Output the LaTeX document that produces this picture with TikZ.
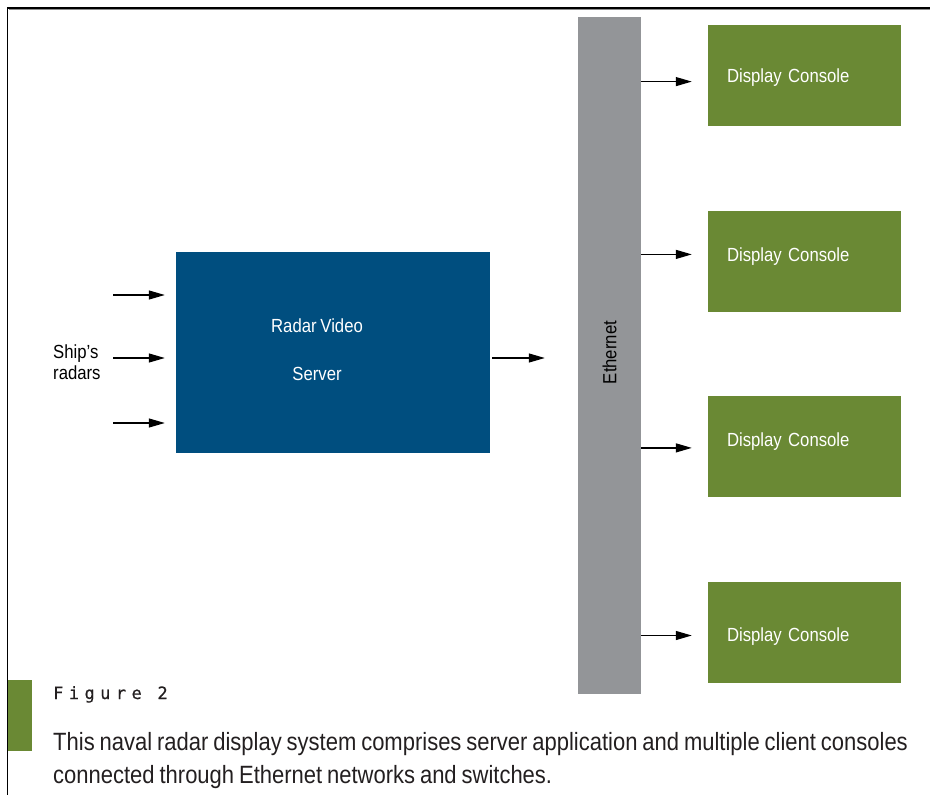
\documentclass[tikz,border=0pt]{standalone}
\usepackage{fontspec}
\setmainfont[FakeStretch=0.88, WordSpace=0.8]{Liberation Sans}
\newfontfamily\figfont[LetterSpace=32, FakeBold=0.6]{DejaVu Sans Mono}
\usetikzlibrary{positioning, arrows.meta}

\definecolor{srvblue}{HTML}{004E7F}
\definecolor{consgreen}{HTML}{6A8934}
\definecolor{ethgray}{HTML}{939598}
\definecolor{captext}{HTML}{231F20}

\begin{document}
\begin{tikzpicture}[
          x=1pt, y=-1pt,
          arr/.style={-{Triangle[length=16pt,width=9pt]}, line width=1.2pt},
          console/.style={fill=consgreen, text=white, minimum height=101pt,
            text width=155pt, inner xsep=19pt, inner ysep=0pt, align=left,
            text depth=0pt, font=\fontsize{19}{22}\selectfont},
          lift/.style={text height=#1},
          server/.style={fill=srvblue, minimum width=314pt, minimum height=201pt, inner sep=0pt},
          bus/.style={fill=ethgray, minimum width=63pt, minimum height=677pt, inner sep=0pt},
          whitetext/.style={text=white, align=center, font=\fontsize{19}{48}\selectfont},
          plaintext/.style={text=black, align=left, inner sep=0pt, font=\fontsize{19}{21}\selectfont}
        ]
        \useasboundingbox (0,0) rectangle (930,795);

        % frame
        \draw[black!45, line width=1pt] (9,9.8) -- (930,9.8);
        \draw[black, line width=1.6pt] (7.5,795) -- (7.5,8) -- (930,8);

        % server and bus
        \node[server] (srv) at (333,352.5) {};
        \node[whitetext] (srvlbl) at ([xshift=-16pt,yshift=2.5pt]srv.center) {Radar Video\\Server};
        \node[bus] (eth) at (609.5,355.5) {};
        \node[rotate=90, font=\fontsize{19}{22}\selectfont] (ethlbl) at ([yshift=3pt]eth.center) {Ethernet};

        % consoles
        \node[console, lift=13.6pt] (c1) at (804.5,75.8) {Display Console};
        \node[console, lift=0pt, below=84pt of c1] (c2) {Display Console};
        \node[console, lift=0.6pt, below=84pt of c2] (c3) {Display Console};
        \node[console, lift=19.6pt, below=84pt of c3] (c4) {Display Console};

        % radar inputs
        \node[plaintext, anchor=west] (ships) at (53,362.5) {Ship’s\\radars};
        \coordinate (in1) at (113,295);
        \coordinate (in2) at (113,358);
        \coordinate (in3) at (113,423);
        \draw[arr, shorten >=11pt] (in1) -- (in1 -| srv.west);
        \draw[arr, shorten >=11pt] (in2) -- (in2 -| srv.west);
        \draw[arr, shorten >=11pt] (in3) -- (in3 -| srv.west);

        % server to bus
        \coordinate (a0) at ([yshift=-5.5pt]srv.east);
        \draw[arr, shorten <=2pt, shorten >=33pt] (a0) -- (a0 -| eth.west);

        % bus to consoles
        \coordinate (a1) at ([yshift=-5.8pt]c1.west);
        \coordinate (a2) at ([yshift=6.8pt]c2.west);
        \coordinate (a3) at ([yshift=-1.3pt]c3.west);
        \coordinate (a4) at ([yshift=-3.5pt]c4.west);
        \draw[arr, shorten >=16pt] (eth.east |- a1) -- (a1);
        \draw[arr, shorten >=16pt] (eth.east |- a2) -- (a2);
        \draw[arr, shorten >=16pt] (eth.east |- a3) -- (a3);
        \draw[arr, shorten >=16pt] (eth.east |- a4) -- (a4);

        % caption
        \node[fill=consgreen, minimum width=24pt, minimum height=71pt, inner sep=0pt] (tab) at (20,715.5) {};
        \node[anchor=base west, inner sep=0pt, text=captext,
          font=\figfont\fontsize{17}{20}\selectfont] (fig) at (53,699) {Figure 2};
        \node[anchor=base west, inner sep=0pt, text=captext, align=left,
          font=\fontsize{25}{33.5}\selectfont] (cap) at (53,783.5)
          {This naval radar display system comprises server application and multiple client consoles\\
           connected through Ethernet networks and switches.};
        \end{tikzpicture}
\end{document}
